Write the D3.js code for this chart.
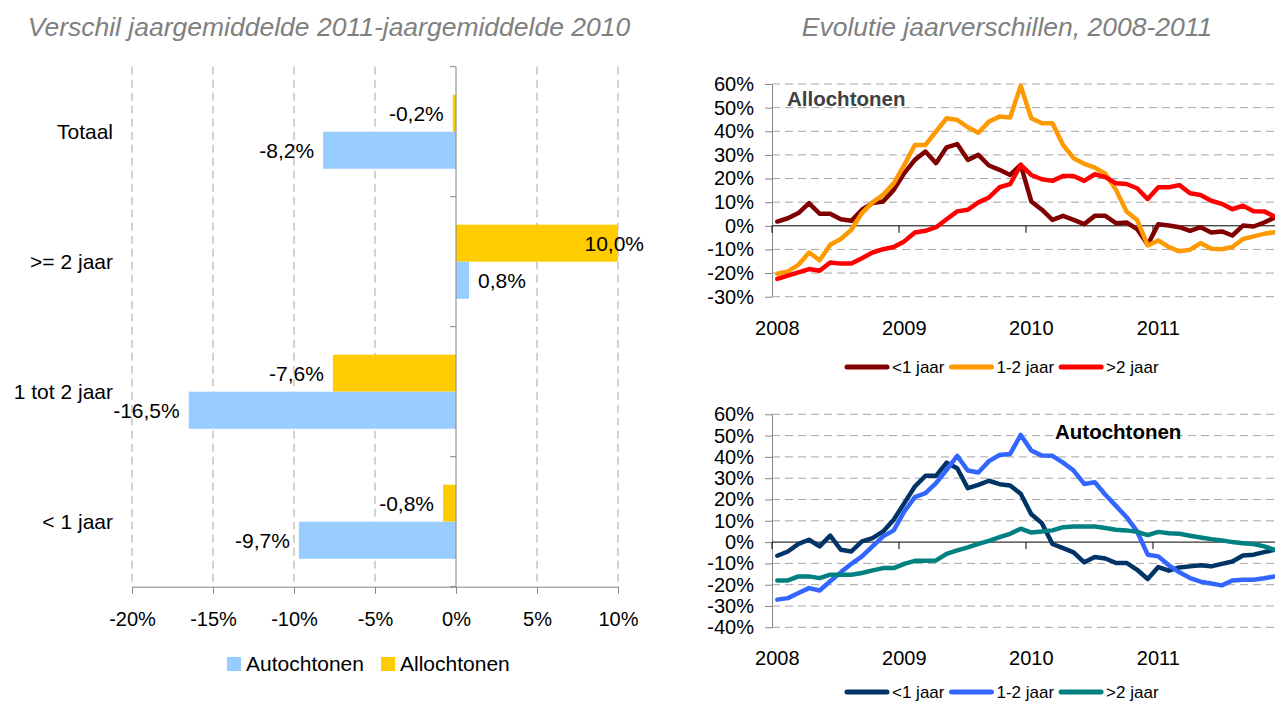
<!DOCTYPE html>
<html>
<head>
<meta charset="utf-8" />
<title>Jaarverschillen</title>
<script src="https://cdn.jsdelivr.net/npm/d3@7"></script>
<style>
body{margin:0;background:#fff;}
svg text{font-family:"Liberation Sans",Arial,sans-serif;fill:#000;}
svg .title{font-style:italic;font-size:26.5px;fill:#808080;}
svg .grid{stroke:#a6a6a6;stroke-dasharray:8,5;stroke-width:1px;}
svg .axis path, svg .axis line{stroke:#868686;}
svg .axis text{font-size:20px;}
svg .series{fill:none;stroke-width:4.5px;stroke-linejoin:round;stroke-linecap:round;}
</style>
</head>
<body>
<div id="chart"></div>
<script>
var width = 1275,
    height = 702;

// linker grafiek: verschil jaargemiddelde 2011 - 2010
var groepen = ["Totaal", ">= 2 jaar", "1 tot 2 jaar", "< 1 jaar"];
var autochtonen = [-8.2, 0.8, -16.5, -9.7];
var allochtonen = [-0.2, 10.0, -7.6, -0.8];
var barTicks = [-20, -15, -10, -5, 0, 5, 10];

// rechter grafieken: maandelijkse jaarverschillen 2008-2011
var maanden = d3.timeMonth.range(new Date(2008, 0, 1), new Date(2012, 0, 1));
var jaren = ["2008", "2009", "2010", "2011"];
var reeksNamen = ["<1 jaar", "1-2 jaar", ">2 jaar"];

var alloKort = [1.8, 3.2, 5.4, 9.6, 5.1, 5.1, 2.8, 2.1, 6.8, 9.6, 10.3, 15.2,
  22.3, 27.9, 31.4, 26.5, 33.2, 34.6, 27.9, 30, 25.5, 23.7, 21.5, 25.8,
  10.3, 6.8, 2.5, 4.2, 2.5, 0.7, 4.2, 4.2, 1.1, 1.4, -1.4, -8,
  0.7, 0.1, -0.6, -2.1, -0.6, -2.8, -2.4, -4.1, 0.1, -0.3, 1.4, 3.5];
var alloMidden = [-20.3, -19.3, -16.5, -11.3, -14.6, -8, -5.6, -1.7, 5.4, 9.9, 13.1, 18,
  25.8, 34.2, 34.2, 39.9, 45.5, 44.8, 41.7, 39.4, 44.1, 46.2, 45.8, 59.2,
  45.5, 43.4, 43.4, 34.2, 28.6, 26.2, 24.6, 22, 15.2, 6.1, 2.5, -8.3,
  -6.2, -9, -10.8, -10.1, -7.3, -9.7, -9.9, -9, -5.6, -4.5, -3.4, -2.7];
var alloLang = [-22.5, -21.1, -19.7, -18.3, -19, -15.5, -16, -16, -13.7, -11.3, -9.9, -9,
  -6.6, -2.8, -2.1, -0.6, 2.8, 6.1, 6.8, 9.9, 12, 16.3, 17.6, 25.8,
  21.5, 19.7, 19, 21.1, 21.1, 19, 21.8, 20.6, 18, 17.7, 15.9, 11.3,
  16.3, 16.3, 17.2, 13.8, 13, 10.6, 9.3, 7, 8.5, 6.2, 6.1, 3.9];

var autoKort = [-6.4, -4.4, -0.8, 1.1, -2, 3, -3.6, -4.4, 0.3, 1.9, 5, 10.5,
  18.3, 26.1, 31.1, 31.1, 37.3, 34.7, 25.3, 26.9, 28.8, 27.2, 26.6, 22.7,
  13.1, 8.9, -0.9, -2.8, -4.8, -9.5, -7, -7.7, -9.8, -9.8, -13, -17.3,
  -11.7, -13.4, -11.9, -11.4, -10.9, -11.4, -10.2, -9.1, -6.3, -5.9, -4.7, -3.6];
var autoMidden = [-27, -26.3, -23.9, -21.6, -22.7, -18.4, -14.2, -10.2, -6.7, -2, 2.7, 5.5,
  14.4, 21.1, 23, 27.7, 33.9, 40.5, 33.6, 32.7, 38, 40.9, 41.4, 50.3,
  43, 40.6, 40.5, 37.3, 33.6, 27.3, 28.1, 22.2, 17, 11.7, 5, -5.9,
  -6.7, -10.9, -14.2, -16.9, -18.6, -19.4, -20.3, -18, -17.7, -17.7, -17, -16.1];
var autoLang = [-18, -18, -16.1, -16.1, -16.9, -15.3, -15.3, -15.3, -14.5, -13.3, -12.2, -12.2,
  -10.2, -8.8, -8.8, -8.6, -5.5, -3.9, -2.5, -0.8, 0.6, 2.3, 3.9, 6.3,
  4.5, 5, 5.5, 7, 7.3, 7.3, 7.3, 6.6, 5.8, 5.5, 4.8, 3.3,
  4.8, 4.2, 3.9, 3, 2.2, 1.4, 0.8, 0, -0.5, -0.9, -2, -3.6];

var nl = d3.formatLocale({decimal: ",", thousands: ".", grouping: [3], currency: ["€", ""], minus: "-"});
var fmt = nl.format(".1f");

var svg = d3.select("#chart")
  .append("svg")
  .attr("width", width)
  .attr("height", height);

// titels
svg.append("text").attr("class", "title")
  .attr("x", 329).attr("y", 36).attr("text-anchor", "middle")
  .text("Verschil jaargemiddelde 2011-jaargemiddelde 2010");
svg.append("text").attr("class", "title")
  .attr("x", 1007).attr("y", 36).attr("text-anchor", "middle")
  .text("Evolutie jaarverschillen, 2008-2011");

// ---------- staafdiagram ----------
var top0 = 66.7, bottom0 = 586.7;
var x = d3.scaleLinear().domain([-20, 10]).range([132, 618]);
var y = d3.scaleBand().domain(groepen).range([top0, bottom0])
  .paddingInner(0.43).paddingOuter(0.215);
var ySub = d3.scaleBand().domain(["Allochtonen", "Autochtonen"]).range([0, y.bandwidth()]);

var barG = svg.append("g");

barG.selectAll("line.grid")
  .data(barTicks.filter(function(d){ return d != 0; }))
  .enter().append("line")
  .attr("class", "grid")
  .attr("x1", function(d){ return x(d); })
  .attr("x2", function(d){ return x(d); })
  .attr("y1", top0).attr("y2", bottom0);

var rijen = groepen.map(function(g, i){
  return {groep: g, Allochtonen: allochtonen[i], Autochtonen: autochtonen[i]};
});
var kleuren = {Allochtonen: "#ffcc00", Autochtonen: "#99ccff"};

rijen.forEach(function(r){
  ["Allochtonen", "Autochtonen"].forEach(function(s){
    var v = r[s];
    var yy = y(r.groep) + ySub(s);
    barG.append("rect")
      .attr("x", x(Math.min(0, v)))
      .attr("y", yy)
      .attr("width", Math.abs(x(v) - x(0)))
      .attr("height", ySub.bandwidth())
      .attr("fill", kleuren[s]);
    var lbl = barG.append("text")
      .attr("y", yy + ySub.bandwidth() / 2)
      .attr("dy", "0.35em")
      .style("font-size", "21px")
      .text(fmt(v) + "%");
    if (v < 0) {
      lbl.attr("x", x(v) - 9).attr("text-anchor", "end");
    } else {
      var len = lbl.node().getComputedTextLength();
      if (x(v) + 9 + len > 644) {
        lbl.attr("x", 644).attr("text-anchor", "end");
      } else {
        lbl.attr("x", x(v) + 9);
      }
    }
  });
});

// verticale as op 0
barG.append("line")
  .attr("x1", x(0)).attr("x2", x(0))
  .attr("y1", top0).attr("y2", bottom0)
  .attr("stroke", "#868686");
barG.selectAll("line.cat")
  .data(d3.range(groepen.length + 1))
  .enter().append("line")
  .attr("x1", x(0) - 6).attr("x2", x(0))
  .attr("y1", function(i){ return top0 + i * y.step(); })
  .attr("y2", function(i){ return top0 + i * y.step(); })
  .attr("stroke", "#868686");

barG.selectAll("text.cat")
  .data(groepen)
  .enter().append("text")
  .attr("x", 113)
  .attr("y", function(d){ return y(d) + y.bandwidth() / 2; })
  .attr("dy", "0.35em")
  .attr("text-anchor", "end")
  .style("font-size", "21px")
  .text(function(d){ return d; });

barG.append("g")
  .attr("class", "axis")
  .attr("transform", "translate(0," + bottom0 + ")")
  .call(d3.axisBottom(x).tickValues(barTicks)
    .tickFormat(function(d){ return d + "%"; })
    .tickSize(7).tickSizeOuter(0).tickPadding(18));

// legenda links
var legL = svg.append("g").attr("transform", "translate(0,664)");
[["Autochtonen", 227], ["Allochtonen", 381]].forEach(function(l){
  legL.append("rect").attr("x", l[1]).attr("y", -7).attr("width", 14).attr("height", 14)
    .attr("fill", kleuren[l[0]]);
  legL.append("text").attr("x", l[1] + 19).attr("dy", "0.35em")
    .style("font-size", "21px").text(l[0]);
});

// ---------- lijndiagrammen ----------
var xm = d3.scaleBand().domain(maanden).range([772, 1280]);
var plotRight = 1280;

function lijnPaneel(cfg) {
  var g = svg.append("g");
  var ys = d3.scaleLinear().domain(cfg.domain).range(cfg.range);
  var ticks = d3.range(cfg.domain[0], cfg.domain[1] + 1, 10);

  g.selectAll("line.grid")
    .data(ticks.filter(function(d){ return d != 0; }))
    .enter().append("line")
    .attr("class", "grid")
    .attr("x1", 772).attr("x2", plotRight)
    .attr("y1", function(d){ return ys(d); })
    .attr("y2", function(d){ return ys(d); });

  g.append("g")
    .attr("class", "axis")
    .attr("transform", "translate(772,0)")
    .call(d3.axisLeft(ys).tickValues(ticks)
      .tickFormat(function(d){ return d + "%"; })
      .tickSize(7).tickSizeOuter(0).tickPadding(11));

  // nullijn met jaarstreepjes
  g.append("line")
    .attr("x1", 772).attr("x2", plotRight)
    .attr("y1", ys(0)).attr("y2", ys(0))
    .attr("stroke", "#000");
  g.selectAll("line.jaar")
    .data(jaren)
    .enter().append("line")
    .attr("x1", function(d, i){ return xm(maanden[i * 12]); })
    .attr("x2", function(d, i){ return xm(maanden[i * 12]); })
    .attr("y1", ys(0)).attr("y2", ys(0) + 7)
    .attr("stroke", "#000");

  g.selectAll("text.jaar")
    .data(jaren)
    .enter().append("text")
    .attr("x", function(d, i){ return xm(maanden[i * 12]) + xm.bandwidth() / 2; })
    .attr("y", cfg.jaarY)
    .attr("dy", "0.35em")
    .attr("text-anchor", "middle")
    .style("font-size", "20px")
    .text(function(d){ return d; });

  var line = d3.line()
    .x(function(d, i){ return xm(maanden[i]) + xm.bandwidth() / 2; })
    .y(function(d){ return ys(d); });

  g.selectAll("path.series")
    .data(cfg.reeksen)
    .enter().append("path")
    .attr("class", "series")
    .attr("stroke", function(d, i){ return cfg.kleuren[i]; })
    .attr("d", function(d){ return line(d); });

  g.append("text")
    .attr("x", cfg.label[1]).attr("y", cfg.label[2])
    .attr("dy", "0.35em")
    .style("font-size", "20.5px").style("font-weight", "bold")
    .style("fill", cfg.label[3])
    .text(cfg.label[0]);

  // legenda
  var lx = 847;
  reeksNamen.forEach(function(n, i){
    g.append("line")
      .attr("x1", lx).attr("x2", lx + 40)
      .attr("y1", cfg.legY).attr("y2", cfg.legY)
      .attr("stroke", cfg.kleuren[i]).attr("stroke-width", 5)
      .attr("stroke-linecap", "round");
    var t = g.append("text")
      .attr("x", lx + 45).attr("y", cfg.legY).attr("dy", "0.35em")
      .style("font-size", "17px").text(n);
    lx += 45 + t.node().getComputedTextLength() + 7;
  });
}

lijnPaneel({
  domain: [-30, 60], range: [296.7, 84],
  reeksen: [alloKort, alloMidden, alloLang],
  kleuren: ["#800000", "#ff9900", "#ff0000"],
  label: ["Allochtonen", 787, 99, "#404040"],
  jaarY: 328, legY: 367
});

lijnPaneel({
  domain: [-40, 60], range: [627.3, 414.3],
  reeksen: [autoKort, autoMidden, autoLang],
  kleuren: ["#003366", "#3366ff", "#008080"],
  label: ["Autochtonen", 1055, 432, "#000"],
  jaarY: 658, legY: 692
});
</script>
</body>
</html>
